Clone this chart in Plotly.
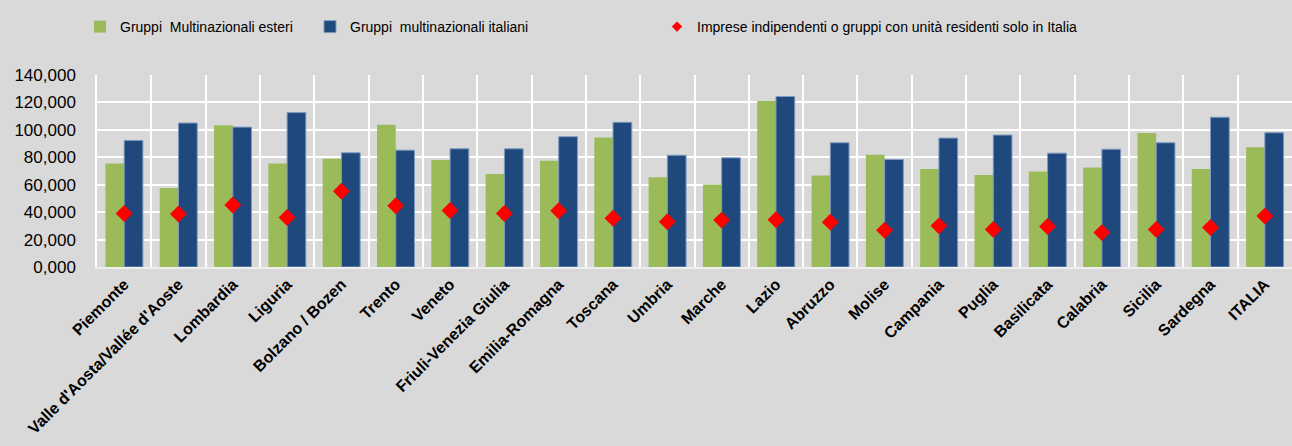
import plotly.graph_objects as go

regions = ["Piemonte", "Valle d'Aosta/Vallée d'Aoste", "Lombardia", "Liguria",
           "Bolzano / Bozen", "Trento", "Veneto", "Friuli-Venezia Giulia",
           "Emilia-Romagna", "Toscana", "Umbria", "Marche", "Lazio", "Abruzzo",
           "Molise", "Campania", "Puglia", "Basilicata", "Calabria", "Sicilia",
           "Sardegna", "ITALIA"]

mn_esteri = [75400, 57600, 103300, 75400, 78900, 103800, 78100, 67900,
             77400, 94500, 65400, 60100, 121100, 66700, 81800, 71500,
             67100, 69600, 72500, 97700, 71500, 87400]

mn_italiani = [92300, 105000, 102000, 112600, 83300, 85200, 86200, 86200,
               95000, 105500, 81500, 79600, 124300, 90600, 78400, 94000,
               96200, 83000, 85900, 90600, 109200, 97900]

indipendenti = [39000, 38600, 45200, 36100, 55200, 44700, 41200, 39000,
                41000, 35600, 33000, 34200, 34400, 32700, 26800, 30000,
                27400, 29500, 25100, 27400, 28800, 37100]

y_tickvals = [0, 20000, 40000, 60000, 80000, 100000, 120000, 140000]
y_ticktext = ["0,000", "20,000", "40,000", "60,000", "80,000", "100,000", "120,000", "140,000"]

names = ["Gruppi  Multinazionali esteri", "Gruppi  multinazionali italiani",
         "Imprese indipendenti o gruppi con unità residenti solo in Italia"]

FONT = "Liberation Sans, Arial, sans-serif"
BG = "#D9D9D9"

W, H = 1292, 446

fig = go.Figure()
fig.add_trace(go.Bar(x=regions, y=mn_esteri, name=names[0],
                     marker=dict(color="#9BBB59", line=dict(width=0)),
                     legend="legend"))
fig.add_trace(go.Bar(x=regions, y=mn_italiani, name=names[1],
                     marker=dict(color="#1F497D", line=dict(color="#7F9CC0", width=1)),
                     legend="legend2"))
fig.add_trace(go.Scatter(x=regions, y=indipendenti, name=names[2], mode="markers",
                         marker=dict(symbol="diamond", size=13, color="#FF0000"),
                         showlegend=False))
# legend entry with a smaller diamond, as in the original legend
fig.add_trace(go.Scatter(x=[None], y=[None], name=names[2], mode="markers",
                         marker=dict(symbol="diamond", size=8, color="#FF0000"),
                         legend="legend3"))


def leg(px):
    return dict(x=px / W, y=1 - 27 / H, xref="container", yref="container",
                xanchor="left", yanchor="middle", orientation="h",
                bgcolor="rgba(0,0,0,0)", font=dict(family=FONT, size=14, color="#000000"),
                itemwidth=30)


fig.update_layout(
    width=W, height=H,
    paper_bgcolor=BG, plot_bgcolor=BG,
    margin=dict(l=97, r=0, t=75, b=H - 75 - 192),
    barmode="group", bargap=0.31, bargroupgap=0,
    showlegend=True,
    legend=leg(80), legend2=leg(310), legend3=leg(657),
    font=dict(family=FONT, color="#000000"),
    xaxis=dict(type="category", range=[-0.5, 21.5], tickson="boundaries", showgrid=True,
               gridcolor="#FFFFFF", gridwidth=2, tickangle=-45,
               ticks="", tickfont=dict(family=FONT, size=16, color="#000000", weight="bold"),
               showline=True, linecolor="#EEEEEE", linewidth=1.5, automargin=False),
    yaxis=dict(range=[0, 140000], tickvals=y_tickvals, ticktext=y_ticktext,
               showgrid=True, gridcolor="#FFFFFF", gridwidth=1.5, zeroline=False,
               showline=True, linecolor="#FFFFFF", linewidth=1.5,
               ticks="", ticklabelstandoff=16,
               tickfont=dict(family=FONT, size=17, color="#000000"), automargin=False),
)

fig.write_html("out.html",
               config={"displayModeBar": False},
               post_script="document.body.style.margin='0';"
                           "document.body.style.background='#D9D9D9';")
